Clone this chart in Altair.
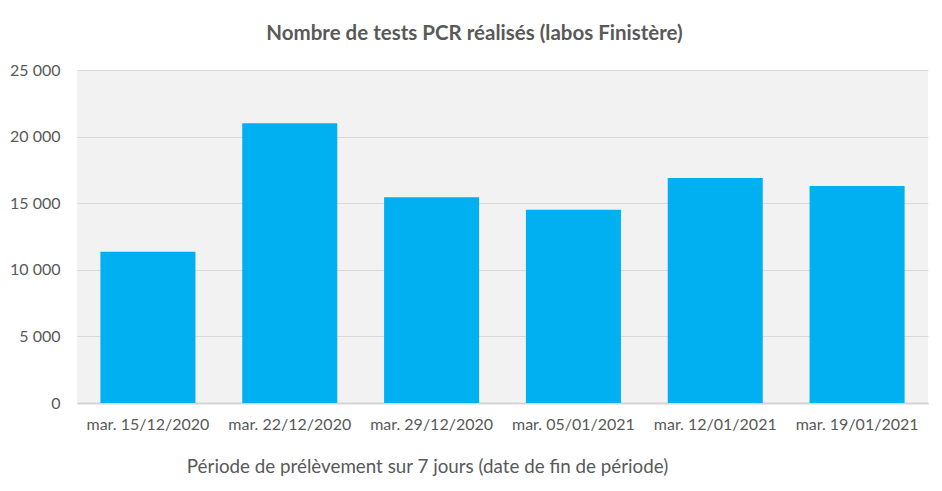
import altair as alt
import pandas as pd

periods = ["mar. 15/12/2020", "mar. 22/12/2020", "mar. 29/12/2020",
           "mar. 05/01/2021", "mar. 12/01/2021", "mar. 19/01/2021"]
tests = [11350, 21000, 15450, 14500, 16900, 16300]
y_ticks = [0, 5000, 10000, 15000, 20000, 25000]

df = pd.DataFrame({"periode": periods, "tests": tests})

FONT = "Lato"
GREY = "#595959"

chart = alt.Chart(df).mark_bar(color="#00b0f0").encode(
    x=alt.X("periode:N", sort=periods,
            scale=alt.Scale(paddingInner=0.33, paddingOuter=0.165),
            axis=alt.Axis(title="Période de prélèvement sur 7 jours (date de fin de période)",
                          labelAngle=0, ticks=False, labelPadding=13,
                          labelFontSize=16, labelColor=GREY, labelFont=FONT,
                          titleFontSize=18.8, titleColor=GREY, titleFont=FONT,
                          titleFontWeight="normal",
                          titleX=350, titleY=63, titleAlign="center", titleBaseline="middle",
                          domainColor="#d4d4d4", domainWidth=2)),
    y=alt.Y("tests:Q", scale=alt.Scale(domain=[0, 25000], nice=False),
            axis=alt.Axis(title=None, values=y_ticks, ticks=False, domain=False,
                          labelExpr="datum.value == 0 ? '0' : format(datum.value/1000, 'd') + ' 000'",
                          labelFontSize=16, labelColor=GREY, labelFont=FONT,
                          labelPadding=17, gridColor="#d9d9d9", gridWidth=1)),
).properties(
    width=851, height=333,
    title=alt.TitleParams("Nombre de tests PCR réalisés (labos Finistère)",
                          fontSize=20.5, font=FONT, fontWeight="bold", color=GREY,
                          anchor="middle", offset=18, dx=-28),
    autosize=alt.AutoSizeParams(type="none"),
    padding={"left": 69, "top": 62, "right": 5, "bottom": 78},
).configure(background="white").configure_view(fill="#f2f2f2", stroke=None)

chart.save("out.html", embed_options={"renderer": "svg", "actions": False})
